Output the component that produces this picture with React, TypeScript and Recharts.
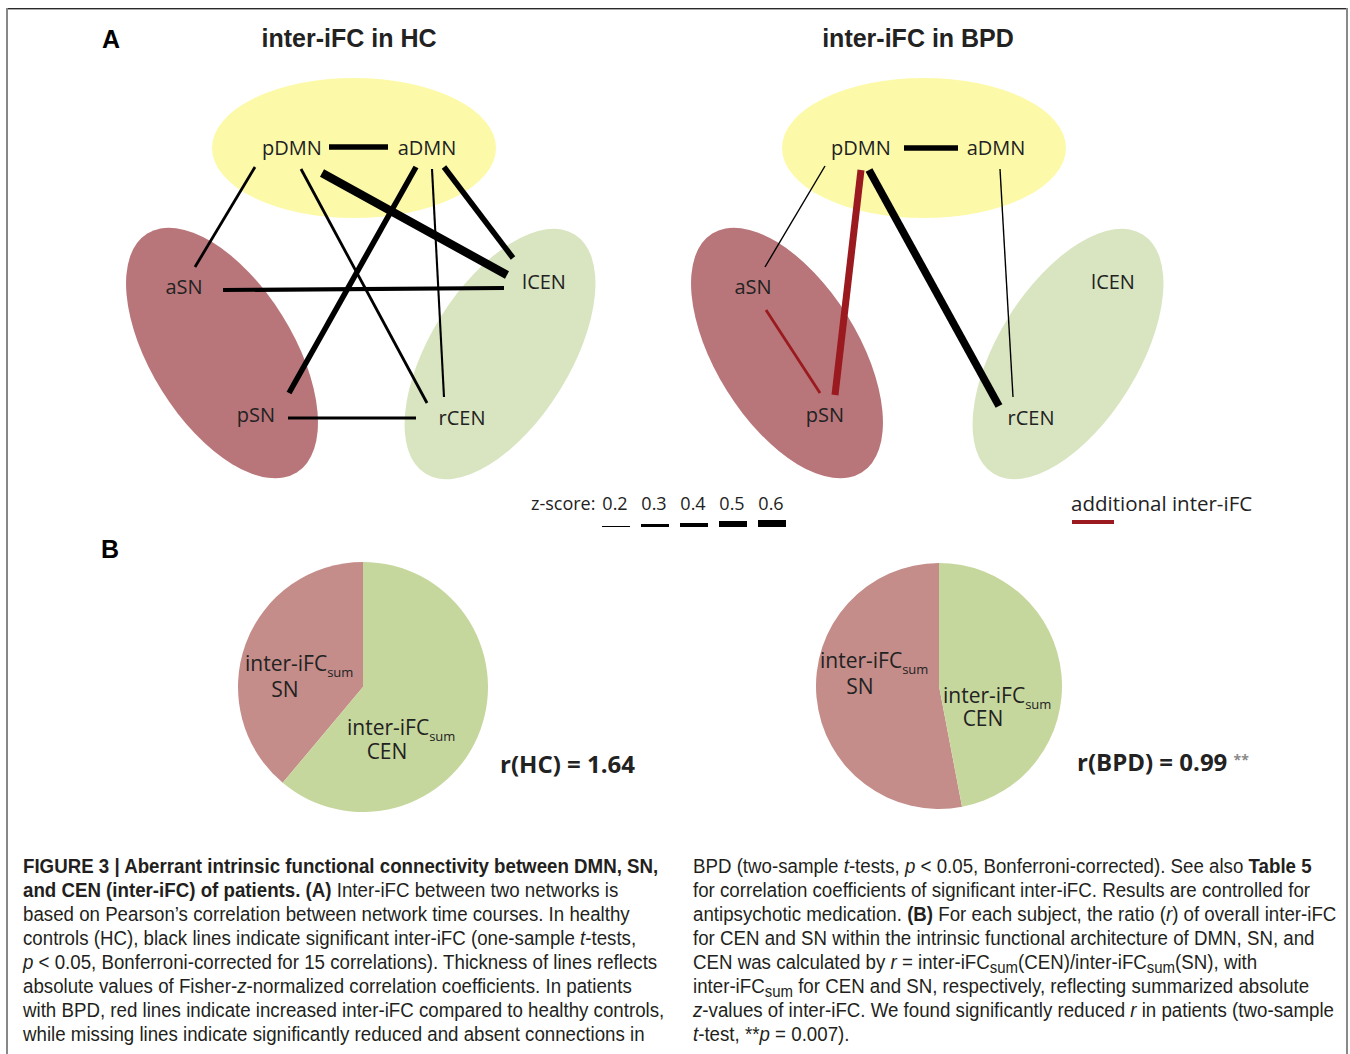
import React from 'react';
import { ScatterChart, Scatter, XAxis, YAxis, PieChart, Pie, Cell } from 'recharts';

// network nodes (layout shared by both panels, diagram units)
const NODE_NAMES = ['pDMN', 'aDMN', 'aSN', 'lCEN', 'pSN', 'rCEN'];
const NODE_X = [192, 327, 84, 444, 156, 362];
const NODE_Y = [87, 87, 226, 221, 354, 357];

// resting-state networks (blobs behind the nodes)
const NETWORKS = ['DMN', 'SN', 'CEN'];
const HC_NETWORK_X = [254, 122, 400];
const BPD_NETWORK_X = [255, 118, 399];
const NETWORK_Y = [88, 293, 294];

// edges: from, to, |z|, x1, y1, x2, y2
const HC_EDGES: [string, string, number, number, number, number, number][] = [
  ['pDMN', 'aDMN', 0.5, 229, 87, 288, 87],
  ['pDMN', 'aSN', 0.3, 155, 107, 95, 207],
  ['pDMN', 'rCEN', 0.3, 201, 109, 327, 343],
  ['pDMN', 'lCEN', 0.7, 222, 113, 407, 215],
  ['aDMN', 'pSN', 0.5, 316, 107, 189, 333],
  ['aDMN', 'rCEN', 0.25, 332, 109, 344, 337],
  ['aDMN', 'lCEN', 0.5, 344, 107, 413, 198],
  ['aSN', 'lCEN', 0.4, 123, 230, 404, 228],
  ['pSN', 'rCEN', 0.3, 188, 358, 316, 358],
];
const BPD_EDGES: [string, string, number, number, number, number, number][] = [
  ['pDMN', 'aDMN', 0.5, 235, 88, 289, 88],
  ['pDMN', 'aSN', 0.2, 156, 106, 96, 207],
  ['pDMN', 'pSN', 0.6, 192, 110, 166, 335],
  ['pDMN', 'rCEN', 0.65, 200, 110, 330, 346],
  ['aDMN', 'rCEN', 0.2, 331, 109, 344, 337],
  ['aSN', 'pSN', 0.3, 97, 250, 151, 333],
];
const BPD_ADDITIONAL = ['pDMN-pSN', 'aSN-pSN'];

const Z_LEGEND = [0.2, 0.3, 0.4, 0.5, 0.6];

// panel B pies
const PIE_SLICES = ['SN', 'CEN'];
const HC_SHARE = [38.9, 61.1];
const BPD_SHARE = [53, 47];

const W = 540;
const H = 440;
const LABEL_FONT = '"Open Sans", "DejaVu Sans", sans-serif';
const HEAD_FONT = '"Liberation Sans", Arial, sans-serif';
const CAP_FONT = '"Liberation Sans", Arial, sans-serif';
const RED = '#9a1a1f';

const BLOB: Record<string, { rx: number; ry: number; rot: number; fill: string }> = {
  DMN: { rx: 142, ry: 70, rot: 0, fill: '#fcfaa9' },
  SN: { rx: 71, ry: 141, rot: -32, fill: '#b8767a' },
  CEN: { rx: 70, ry: 141, rot: 32, fill: '#d9e5c0' },
};

const zWidth = (z: number) => (z - 0.1) * 14;

const BlobShape = (p: any) => {
  const s = BLOB[p.payload.name];
  return (
    <ellipse cx={p.cx} cy={p.cy} rx={s.rx} ry={s.ry} fill={s.fill}
      transform={`rotate(${s.rot} ${p.cx} ${p.cy})`} />
  );
};

const NodeLabel = (p: any) => (
  <text x={p.cx} y={p.cy} textAnchor="middle" dominantBaseline="central"
    fontSize={20} fontFamily={LABEL_FONT} fill="#222">{p.payload.name}</text>
);

function Network({ edges, left, netX, added = [] }: { edges: typeof HC_EDGES; left: number; netX: number[]; added?: string[] }) {
  const nodes = NODE_NAMES.map((name, i) => ({ name, x: NODE_X[i], y: NODE_Y[i] }));
  const nets = NETWORKS.map((name, i) => ({ name, x: netX[i], y: NETWORK_Y[i] }));
  return (
    <div style={{ position: 'absolute', left, top: 60 }}>
      <ScatterChart width={W} height={H} margin={{ top: 0, right: 0, bottom: 0, left: 0 }}>
        <XAxis type="number" dataKey="x" domain={[0, W]} allowDataOverflow hide />
        <YAxis type="number" dataKey="y" domain={[0, H]} allowDataOverflow reversed hide />
        <Scatter data={nets} shape={BlobShape} isAnimationActive={false} />
        {edges.map((e, i) => {
          const red = added.includes(`${e[0]}-${e[1]}`);
          return (
            <Scatter key={i} data={[{ x: e[3], y: e[4] }, { x: e[5], y: e[6] }]}
              line={{ stroke: red ? RED : '#000', strokeWidth: zWidth(e[2]) }}
              shape={() => <g />} isAnimationActive={false} />
          );
        })}
        <Scatter data={nodes} shape={NodeLabel} isAnimationActive={false} />
      </ScatterChart>
    </div>
  );
}

const PIE_COLORS = ['#c48d8a', '#c6d79d'];

function RatioPie({ shares, left, top, r }: { shares: number[]; left: number; top: number; r: number }) {
  const data = PIE_SLICES.map((name, i) => ({ name, value: shares[i] }));
  return (
    <div style={{ position: 'absolute', left, top }}>
      <PieChart width={300} height={300} margin={{ top: 0, right: 0, bottom: 0, left: 0 }}>
        <Pie data={data} dataKey="value" cx={150} cy={150} outerRadius={r} startAngle={90} endAngle={450}
          stroke="none" isAnimationActive={false}>
          {data.map((d, i) => <Cell key={d.name} fill={PIE_COLORS[i]} />)}
        </Pie>
      </PieChart>
    </div>
  );
}

const T = ({ x, y, size, bold, mid, sx = 1, color = '#222', family = LABEL_FONT, children }: any) => (
  <div style={{
    position: 'absolute', left: x, top: y,
    transform: `translate(${mid ? '-50%' : '0'}, -50%) scaleX(${sx})`, transformOrigin: '0 50%',
    fontSize: size, fontWeight: bold ? 700 : 400, fontFamily: family, color, whiteSpace: 'nowrap', lineHeight: 1,
  }}>{children}</div>
);

const Sum = () => <span style={{ fontSize: 13, position: 'relative', top: 6 }}>sum</span>;
const CSub = () => <span style={{ fontSize: '0.8em', position: 'relative', top: 4 }}>sum</span>;

const LEFT_CAPTION = [
  <b>FIGURE 3 | Aberrant intrinsic functional connectivity between DMN, SN,</b>,
  <><b>and CEN (inter-iFC) of patients. (A)</b> Inter-iFC between two networks is</>,
  <>based on Pearson’s correlation between network time courses. In healthy</>,
  <>controls (HC), black lines indicate significant inter-iFC (one-sample <i>t</i>-tests,</>,
  <><i>p</i> &lt; 0.05, Bonferroni-corrected for 15 correlations). Thickness of lines reflects</>,
  <>absolute values of Fisher-<i>z</i>-normalized correlation coefficients. In patients</>,
  <>with BPD, red lines indicate increased inter-iFC compared to healthy controls,</>,
  <>while missing lines indicate significantly reduced and absent connections in</>,
];
const RIGHT_CAPTION = [
  <>BPD (two-sample <i>t</i>-tests, <i>p</i> &lt; 0.05, Bonferroni-corrected). See also <b>Table 5</b></>,
  <>for correlation coefficients of significant inter-iFC. Results are controlled for</>,
  <>antipsychotic medication. <b>(B)</b> For each subject, the ratio (<i>r</i>) of overall inter-iFC</>,
  <>for CEN and SN within the intrinsic functional architecture of DMN, SN, and</>,
  <>CEN was calculated by <i>r</i> = inter-iFC<CSub />(CEN)/inter-iFC<CSub />(SN), with</>,
  <>inter-iFC<CSub /> for CEN and SN, respectively, reflecting summarized absolute</>,
  <><i>z</i>-values of inter-iFC. We found significantly reduced <i>r</i> in patients (two-sample</>,
  <><i>t</i>-test, **<i>p</i> = 0.007).</>,
];

export default function App() {
  return (
    <div style={{ position: 'absolute', left: 0, top: 0, width: 1350, height: 1054, background: '#fff', overflow: 'hidden' }}>
      {/* figure frame */}
      <div style={{ position: 'absolute', left: 6, top: 8, width: 1342, height: 1, background: '#2a2a2a' }} />
      <div style={{ position: 'absolute', left: 6, top: 9, width: 1342, height: 1, background: '#aaa' }} />
      <div style={{ position: 'absolute', left: 6, top: 8, width: 2, height: 1046, background: '#888' }} />
      <div style={{ position: 'absolute', left: 1346, top: 8, width: 2, height: 1046, background: '#888' }} />

      <T x={102} y={39} size={25} bold family={HEAD_FONT} color="#000">A</T>
      <T x={349} y={38} size={25} bold mid family={HEAD_FONT}>inter-iFC in HC</T>
      <T x={918} y={38} size={25} bold mid family={HEAD_FONT}>inter-iFC in BPD</T>

      <Network edges={HC_EDGES} left={100} netX={HC_NETWORK_X} />
      <Network edges={BPD_EDGES} left={669} netX={BPD_NETWORK_X} added={BPD_ADDITIONAL} />

      {/* line thickness legend */}
      <T x={531} y={503} size={18} color="#222">z-score:</T>
      {Z_LEGEND.map((z, i) => (
        <React.Fragment key={z}>
          <T x={615 + i * 39} y={503} size={18} mid>{z.toFixed(1)}</T>
          <div style={{ position: 'absolute', left: 602 + i * 39, top: 527 - zWidth(z), width: 28, height: zWidth(z), background: '#000' }} />
        </React.Fragment>
      ))}
      <T x={1071} y={503} size={20.5}>additional inter-iFC</T>
      <div style={{ position: 'absolute', left: 1072, top: 520, width: 42, height: 4, background: RED }} />

      <T x={101} y={549} size={25} bold family={HEAD_FONT} color="#000">B</T>

      <RatioPie shares={HC_SHARE} left={213} top={537} r={125} />
      <RatioPie shares={BPD_SHARE} left={789} top={536} r={123} />

      <T x={245} y={663} size={21}>inter-iFC<Sum /></T>
      <T x={285} y={689} size={21} mid>SN</T>
      <T x={347} y={727} size={21}>inter-iFC<Sum /></T>
      <T x={387} y={751} size={21} mid>CEN</T>
      <T x={500} y={764} size={24} bold>r(HC) = 1.64</T>

      <T x={820} y={660} size={21}>inter-iFC<Sum /></T>
      <T x={860} y={686} size={21} mid>SN</T>
      <T x={943} y={695} size={21}>inter-iFC<Sum /></T>
      <T x={983} y={718} size={21} mid>CEN</T>
      <T x={1077} y={762} size={24} bold>r(BPD) = 0.99 <span style={{ fontSize: 14, color: '#888', position: 'relative', top: -6 }}>**</span></T>

      {LEFT_CAPTION.map((line, i) => (
        <T key={'l' + i} x={23} y={866 + i * 24} size={20} sx={0.935} family={CAP_FONT} color="#231f20">{line}</T>
      ))}
      {RIGHT_CAPTION.map((line, i) => (
        <T key={'r' + i} x={693} y={866 + i * 24} size={20} sx={0.935} family={CAP_FONT} color="#231f20">{line}</T>
      ))}
    </div>
  );
}
